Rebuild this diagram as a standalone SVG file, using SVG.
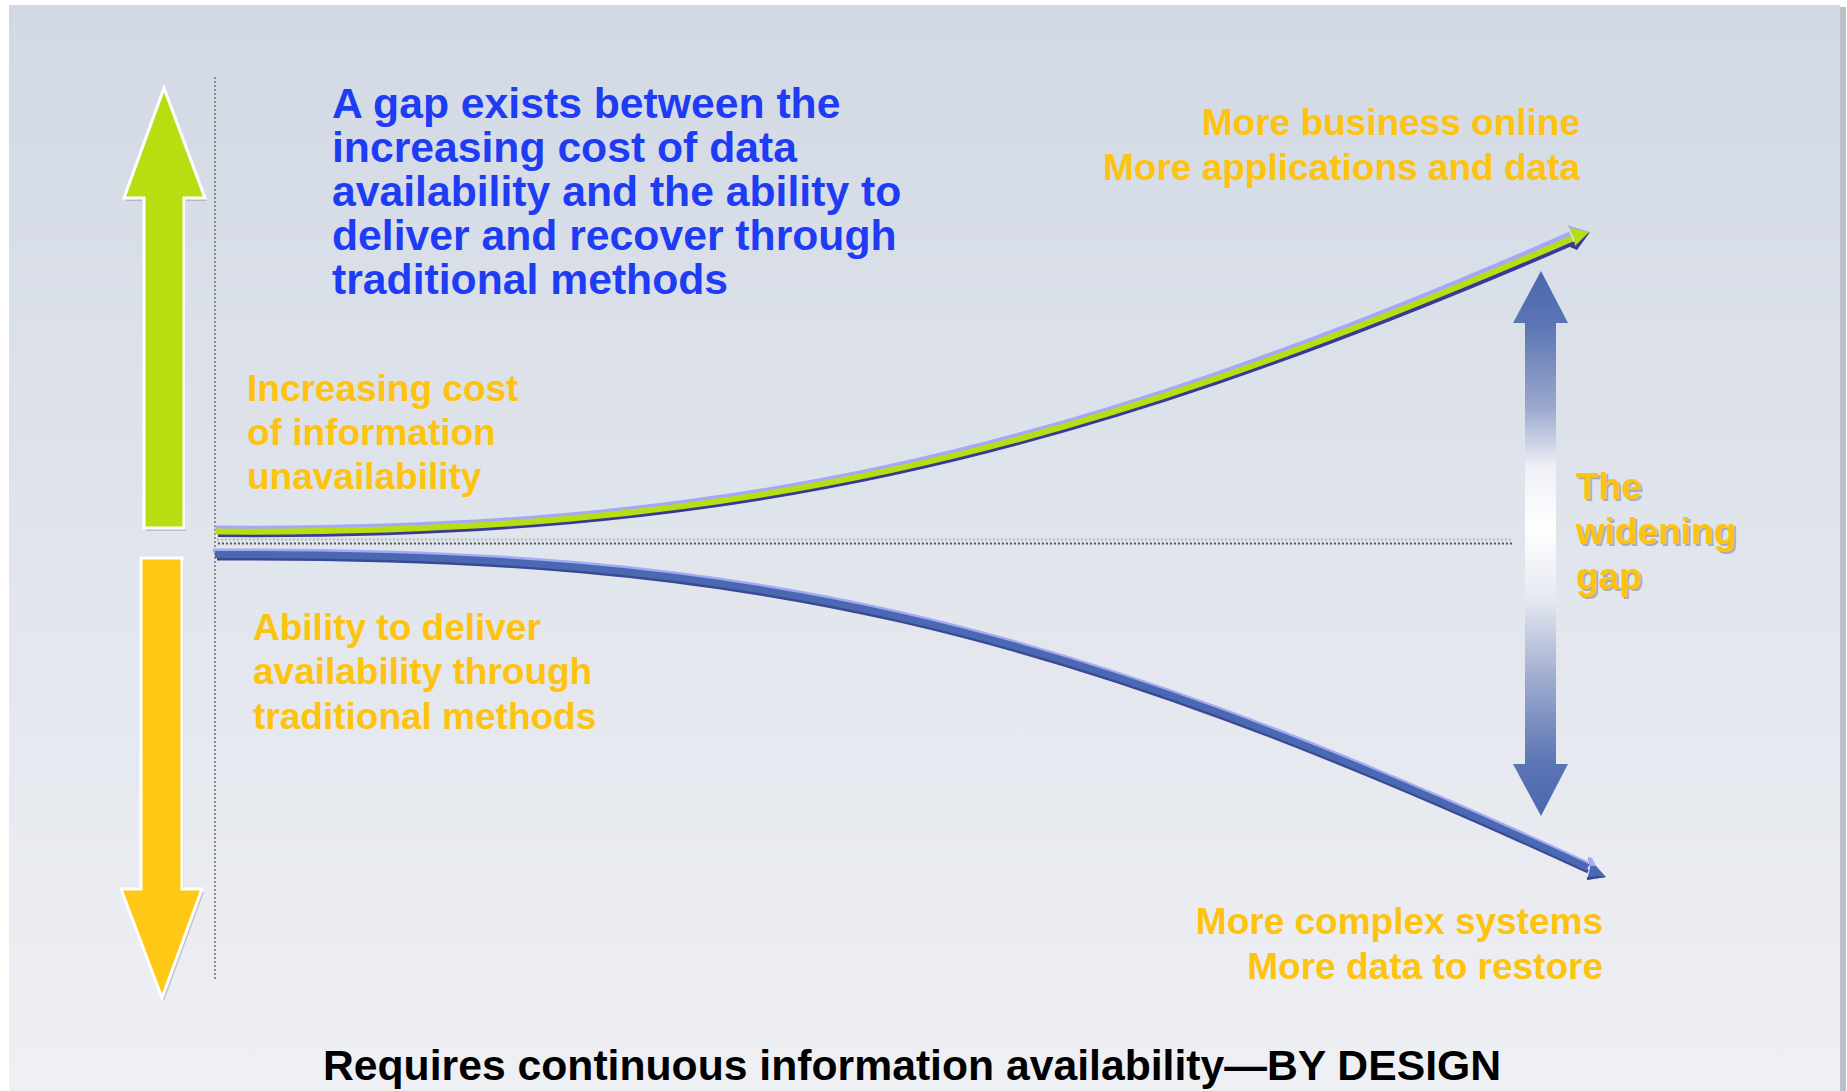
<svg xmlns="http://www.w3.org/2000/svg" width="1847" height="1091" viewBox="0 0 1847 1091">
<defs>
<linearGradient id="bg" x1="0" y1="0" x2="0" y2="1">
<stop offset="0" stop-color="#d2d9e4"/>
<stop offset="1" stop-color="#eff0f4"/>
</linearGradient>
<linearGradient id="gapg" gradientUnits="userSpaceOnUse" x1="0" y1="271" x2="0" y2="816">
<stop offset="0" stop-color="#4a68ae"/>
<stop offset="0.1" stop-color="#5c75b4"/>
<stop offset="0.25" stop-color="#9aa8cc"/>
<stop offset="0.36" stop-color="#eef0f6"/>
<stop offset="0.47" stop-color="#ffffff"/>
<stop offset="0.6" stop-color="#e6e9f1"/>
<stop offset="0.75" stop-color="#9eabcf"/>
<stop offset="0.9" stop-color="#5c75b4"/>
<stop offset="1" stop-color="#4a68ae"/>
</linearGradient>
<style>
.ot{font-family:"Liberation Sans",Arial,sans-serif;font-weight:bold;font-size:37px;fill:#fdc30e}
.bt{font-family:"Liberation Sans",Arial,sans-serif;font-weight:bold;font-size:42.7px;fill:#1f3cf5}
.kt{font-family:"Liberation Sans",Arial,sans-serif;font-weight:bold;font-size:42.7px;fill:#000}
.sh{fill:#a9adb6}
.dot{stroke:#777;stroke-width:1.6;stroke-dasharray:2 2;fill:none}
.big{stroke:#fff;stroke-width:3;stroke-linejoin:miter}
.bshadow{fill:#8a8f99;opacity:0.45}
</style>
</defs>
<rect x="0" y="0" width="1847" height="1091" fill="#fff"/>
<rect x="1838" y="7" width="8" height="1084" fill="#b9c0cb"/>
<rect x="9" y="5" width="1831" height="1086" fill="url(#bg)"/>

<g id="up-arrow">
<polygon class="bshadow" points="166,91 207,201 186,201 186,531 146,531 146,201 126,201"/>
<polygon class="big" fill="#b8de12" points="164,88 205,198 184,198 184,528 144,528 144,198 124,198"/>
</g>
<g id="down-arrow">
<polygon class="bshadow" points="143,561 184,561 184,892 204,892 164,1001 123,892 143,892"/>
<polygon class="big" fill="#fec814" points="141,558 182,558 182,889 202,889 162,998 121,889 141,889"/>
</g>

<g id="axes">
<line class="dot" x1="215" y1="77" x2="215" y2="980"/>
<line x1="217" y1="539.5" x2="1513" y2="539.5" stroke="#b4b6bb" stroke-width="2" stroke-dasharray="2 2"/>
<line x1="218" y1="543.5" x2="1513" y2="543.5" stroke="#55585e" stroke-width="2" stroke-dasharray="2 2"/>
</g>

<g id="connectors">
<g id="cost-curve">
<path d="M215,528 C720,532 1060,458 1570,234" fill="none" stroke="#a4a8f8" stroke-width="5"/>
<path d="M218,535 C720,539 1060,465 1574,243" fill="none" stroke="#383a94" stroke-width="4"/>
<path d="M215,531.5 C720,535.5 1060,461.5 1572,238.5" fill="none" stroke="#b8de12" stroke-width="6"/>
<polygon points="1567,225 1590,232 1576,249 1579,239" fill="#a4a8f8"/>
<polygon points="1590,232 1577,250 1570,247 1576,240" fill="#383a94"/>
<polygon points="1569,228 1589,232 1575,246 1574,238" fill="#b8de12"/>
</g>
<g id="ability-curve">
<path d="M213,550.5 C750,547.5 1050,615.5 1588,863.5" fill="none" stroke="#a4aaf6" stroke-width="4"/>
<path d="M217,558.5 C750,555.5 1050,623.5 1588,871.5" fill="none" stroke="#3b4894" stroke-width="4"/>
<path d="M215,554.5 C750,551.5 1050,619.5 1588,867.5" fill="none" stroke="#4a69b2" stroke-width="7"/>
<polygon points="1588,857 1606,877 1587,880 1590,868" fill="#4a69b2"/>
<polygon points="1588,857 1592,858 1596,866 1590,866" fill="#a4aaf6"/>
<polygon points="1606,877 1587,880 1587,877 1600,876" fill="#3b4894"/>
</g>
</g>

<g id="gap-arrow">
<polygon fill="url(#gapg)" points="1541,271 1568,323 1556,323 1556,764 1568,764 1541,816 1513,764 1525,764 1525,323 1513,323"/>
</g>

<g id="title">
<text class="bt" x="332" y="118">A gap exists between the</text>
<text class="bt" x="332" y="162">increasing cost of data</text>
<text class="bt" x="332" y="206">availability and the ability to</text>
<text class="bt" x="332" y="250">deliver and recover through</text>
<text class="bt" x="332" y="294">traditional methods</text>
</g>

<g id="top-right-label">
<text class="ot" x="1580" y="135" text-anchor="end">More business online</text>
<text class="ot" x="1580" y="180" text-anchor="end">More applications and data</text>
</g>

<g id="cost-label">
<text class="ot" x="247" y="401">Increasing cost</text>
<text class="ot" x="247" y="445">of information</text>
<text class="ot" x="247" y="489">unavailability</text>
</g>

<g id="ability-label">
<text class="ot" x="253" y="640">Ability to deliver</text>
<text class="ot" x="253" y="684">availability through</text>
<text class="ot" x="253" y="729">traditional methods</text>
</g>

<g id="gap-label">
<text class="ot sh" x="1578" y="501">The</text>
<text class="ot sh" x="1578" y="546">widening</text>
<text class="ot sh" x="1578" y="591">gap</text>
<text class="ot" x="1576" y="499">The</text>
<text class="ot" x="1576" y="544">widening</text>
<text class="ot" x="1576" y="589">gap</text>
</g>

<g id="bottom-right-label">
<text class="ot" x="1603" y="934" text-anchor="end">More complex systems</text>
<text class="ot" x="1603" y="979" text-anchor="end">More data to restore</text>
</g>

<g id="footer">
<text class="kt" x="912" y="1080" text-anchor="middle">Requires continuous information availability—BY DESIGN</text>
</g>
</svg>
